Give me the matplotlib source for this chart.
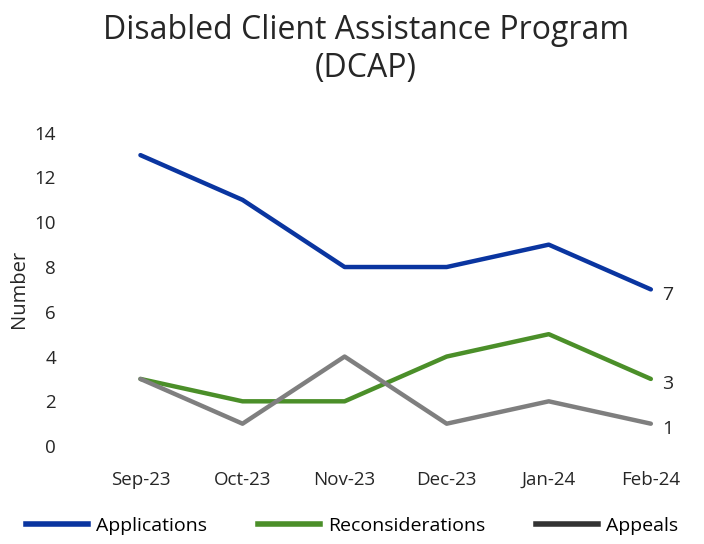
import matplotlib.pyplot as plt
from matplotlib.lines import Line2D

months = ['Sep-23', 'Oct-23', 'Nov-23', 'Dec-23', 'Jan-24', 'Feb-24']
applications = [13, 11, 8, 8, 9, 7]
reconsiderations = [3, 2, 2, 4, 5, 3]
appeals = [3, 1, 4, 1, 2, 1]

plt.rcParams['font.family'] = ['Open Sans', 'DejaVu Sans']

fig = plt.figure(figsize=(7.04, 5.44), dpi=100)
ax = fig.add_axes([0.127, 0.18, 0.87, 0.576])

x = list(range(len(months)))
ax.plot(x, applications, color='#0a35a0', lw=3.2, solid_capstyle='round')
ax.plot(x, reconsiderations, color='#4b8f29', lw=3.2, solid_capstyle='round')
ax.plot(x, appeals, color='#7f7f7f', lw=3.2, solid_capstyle='round')

for series in (applications, reconsiderations, appeals):
    ax.annotate(str(series[-1]), (x[-1], series[-1]), xytext=(8, -4),
                textcoords='offset points', fontsize=14, color='#262626',
                va='center', ha='left')

ax.set_xlim(-0.5, 5.5)
ax.set_ylim(0, 14)
ax.set_xticks(x)
ax.set_xticklabels(months)
ax.set_yticks(range(0, 15, 2))
ax.tick_params(length=0, labelsize=13.5, colors='#262626')
ax.tick_params(axis='x', pad=18)
ax.tick_params(axis='y', pad=24)
for s in ax.spines.values():
    s.set_visible(False)
ax.set_ylabel('Number', fontsize=14.5, color='#262626', labelpad=4)

fig.text(0.52, 0.975, 'Disabled Client Assistance Program\n(DCAP)', ha='center',
         va='top', fontsize=23, color='#262626', linespacing=1.2)

handles = [Line2D([], [], color='#0a35a0', lw=4),
           Line2D([], [], color='#4b8f29', lw=4),
           Line2D([], [], color='#333333', lw=4)]
fig.legend(handles, ['Applications', 'Reconsiderations', 'Appeals'],
           loc='lower center', bbox_to_anchor=(0.5, -0.015), ncol=3, frameon=False,
           fontsize=14, handlelength=3.2, columnspacing=2.6, handletextpad=0.4)

fig.savefig('out.png', dpi=100)
